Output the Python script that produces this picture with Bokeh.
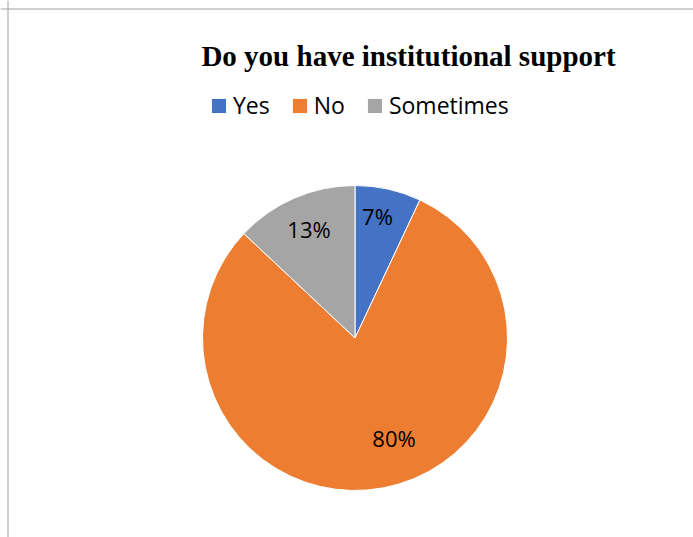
import math
from bokeh.plotting import figure
from bokeh.models import ColumnDataSource, Legend, LegendItem, Span, Label
from bokeh.core.properties import value
from bokeh.embed import file_html
from bokeh.resources import INLINE

# ---- data ----
categories = ["Yes", "No", "Sometimes"]
percents = [7, 80, 13]
colors = ["#4472C4", "#ED7D31", "#A5A5A5"]
title_text = "Do you have institutional support"

# ---- layout (pixels) ----
W, H = 693, 537
cx, cy = 354.5, H - 337.5
R = 152.5
label_r_frac = [0.80, 0.72, 0.76]
label_angle_shift = [-2.0, -10.0, 0.0]  # degrees, clockwise
label_dy = 2.5

total = sum(percents)
starts, ends, lx, ly, texts = [], [], [], [], []
cum = 0.0
for i, v in enumerate(percents):
    a0 = math.pi / 2 - 2 * math.pi * cum / total
    a1 = math.pi / 2 - 2 * math.pi * (cum + v) / total
    starts.append(a0)
    ends.append(a1)
    mid = (a0 + a1) / 2 - math.radians(label_angle_shift[i])
    lx.append(cx + R * label_r_frac[i] * math.cos(mid))
    ly.append(cy + R * label_r_frac[i] * math.sin(mid) + label_dy)
    texts.append(f"{v}%")
    cum += v

src = ColumnDataSource(dict(cat=categories, start=starts, end=ends, color=colors,
                            x=[cx] * 3, y=[cy] * 3))
lsrc = ColumnDataSource(dict(x=lx, y=ly, t=texts))

p = figure(width=W, height=H, x_range=(0, W), y_range=(0, H),
           output_backend="svg", toolbar_location=None, min_border=0)
p.axis.visible = False
p.grid.visible = False
p.outline_line_color = None
p.background_fill_color = "white"
p.border_fill_color = "white"

# border lines (left & top only)
p.add_layout(Span(location=7.5, dimension="height", line_color="#A0A0A0", line_width=1))
p.add_layout(Span(location=H - 8.5, dimension="width", line_color="#A0A0A0", line_width=1))

r = p.wedge(x="x", y="y", radius=R, start_angle="start", end_angle="end",
            direction="clock", fill_color="color", line_color="white", line_width=1,
            source=src)

p.text(x="x", y="y", text="t", source=lsrc, text_align="center",
       text_baseline="middle", text_font=value("Open Sans"),
       text_font_size="22px", text_color="#000000")

p.add_layout(Label(x=408, y=H - 55, text=title_text, text_align="center",
                   text_baseline="alphabetic", text_font="Liberation Serif",
                   text_font_style="bold", text_font_size="29px", text_color="#000000"))

items = [LegendItem(label=c, renderers=[r], index=i) for i, c in enumerate(categories)]
legend = Legend(items=items, orientation="horizontal", location=(209, H - 121),
                glyph_width=19, glyph_height=19, label_standoff=5, spacing=20,
                padding=0, margin=0, border_line_color=None, background_fill_alpha=0,
                label_text_font="Open Sans", label_text_font_size="23px",
                label_text_color="#000000")
p.add_layout(legend, "center")

open("out.html", "w").write(file_html(p, INLINE))
